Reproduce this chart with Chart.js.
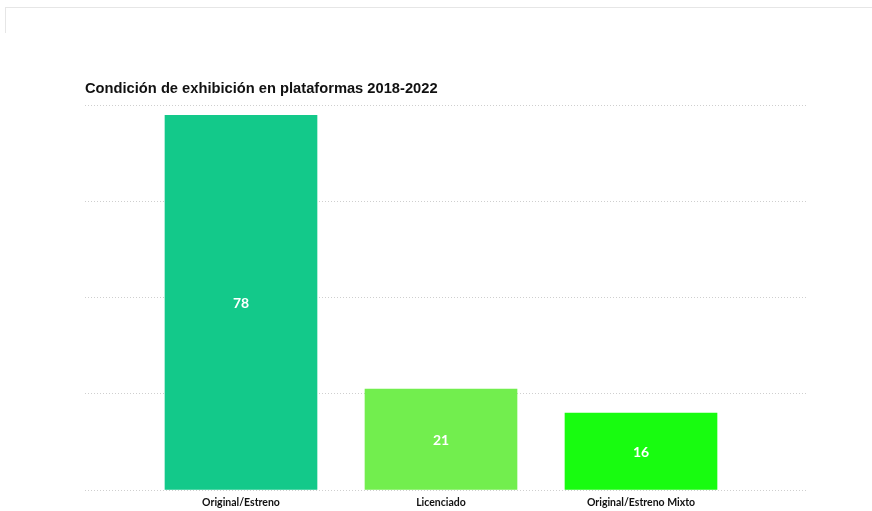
<!DOCTYPE html>
<html>
<head>
<meta charset="utf-8">
<script src="https://cdn.jsdelivr.net/npm/chart.js@4.4.1/dist/chart.umd.min.js"></script>
<style>
  html, body { margin: 0; padding: 0; background: #fff; }
  #wrap { position: relative; width: 872px; height: 511px; overflow: hidden; }
  #frameTop { position: absolute; left: 5px; top: 7px; right: 0; height: 1px; background: #e6e6e6; }
  #frameLeft { position: absolute; left: 5px; top: 7px; width: 1px; height: 26px; background: #e6e6e6; }
  canvas { position: absolute; left: 0; top: 0; }
</style>
</head>
<body>
<div id="wrap">
  <div id="frameTop"></div>
  <div id="frameLeft"></div>
  <canvas id="c" width="872" height="511"></canvas>
</div>
<script>
// Títulos, categorías y valores
const chartTitle = 'Condición de exhibición en plataformas 2018-2022';
const categories = ['Original/Estreno', 'Licenciado', 'Original/Estreno Mixto'];
const values = [78, 21, 16];
const barColors = ['#13c98a', '#72ee4e', '#18fc10'];
const yTicks = [0, 20, 40, 60, 80];

// Etiquetas blancas centradas dentro de cada barra
const barValueLabels = {
  id: 'barValueLabels',
  afterDatasetsDraw(chart) {
    const ctx = chart.ctx;
    const meta = chart.getDatasetMeta(0);
    ctx.save();
    ctx.fillStyle = '#ffffff';
    ctx.font = 'bold 14px Lato, "Open Sans", sans-serif';
    ctx.textAlign = 'center';
    ctx.textBaseline = 'middle';
    meta.data.forEach((bar, i) => {
      const p = bar.getProps(['x', 'y', 'base'], true);
      ctx.fillText(String(values[i]), p.x, (p.y + p.base) / 2 + 1);
    });
    ctx.restore();
  }
};

new Chart(document.getElementById('c'), {
  type: 'bar',
  data: {
    datasets: [{
      data: values.map((v, i) => ({ x: i + 1, y: v })),
      backgroundColor: barColors,
      borderWidth: 0,
      barThickness: 152
    }]
  },
  options: {
    responsive: false,
    animation: false,
    devicePixelRatio: 1,
    layout: { padding: { left: 85, right: 64, top: 80, bottom: 0 } },
    plugins: {
      legend: { display: false },
      tooltip: { enabled: false },
      title: {
        display: true,
        text: chartTitle,
        align: 'start',
        color: '#111111',
        font: { family: '"Liberation Sans", Arial, sans-serif', size: 14.7, weight: 'bold' },
        padding: { top: 0, bottom: 8 }
      }
    },
    scales: {
      x: {
        type: 'linear',
        offset: false,
        min: 0.22,
        max: 3.835,
        grid: { display: false, offset: false, drawTicks: false, tickLength: 0 },
        border: { display: false },
        afterBuildTicks(scale) {
          scale.ticks = categories.map((c, i) => ({ value: i + 1 }));
        },
        afterFit(scale) {
          scale.height = 21;
        },
        ticks: {
          autoSkip: false,
          maxRotation: 0,
          padding: 7,
          color: '#111111',
          font: { family: 'Lato, "Open Sans", sans-serif', size: 10.5, weight: 'bold', lineHeight: 1.0 },
          callback: (v) => categories[v - 1] || ''
        }
      },
      y: {
        min: 0,
        max: 80,
        afterBuildTicks(scale) {
          scale.ticks = yTicks.map(v => ({ value: v }));
        },
        ticks: { display: false },
        border: { display: false, dash: [1, 2] },
        grid: {
          color: '#cfcfcf',
          lineWidth: 1,
          drawTicks: false,
          tickLength: 0
        }
      }
    }
  },
  plugins: [barValueLabels]
});
</script>
</body>
</html>
